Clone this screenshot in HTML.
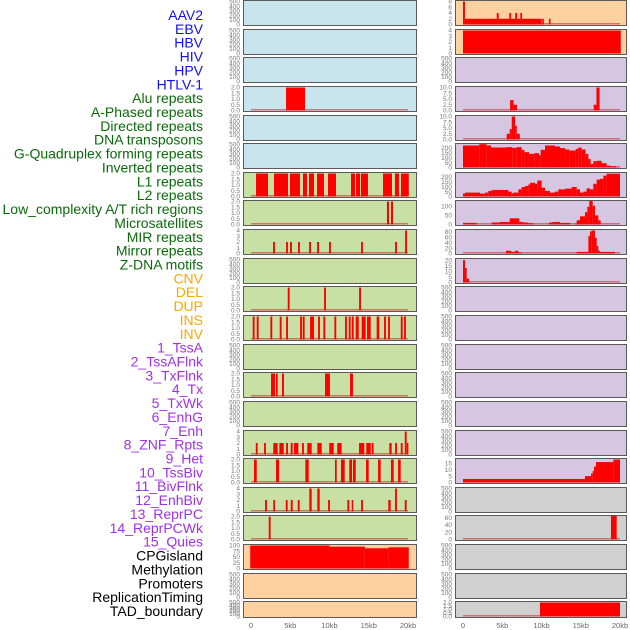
<!DOCTYPE html>
<html><head><meta charset="utf-8"><style>
body{margin:0;background:#fff;}
svg{display:block;font-family:"Liberation Sans",sans-serif;}
</style></head><body>
<svg id="chart" width="630" height="630" viewBox="0 0 630 630">
<g id="labels"></g>
<g id="panels"></g>
<g id="xaxes"></g>
</svg>
<script>
const trackLabels = ["AAV2","EBV","HBV","HIV","HPV","HTLV-1","Alu repeats","A-Phased repeats","Directed repeats","DNA transposons","G-Quadruplex forming repeats","Inverted repeats","L1 repeats","L2 repeats","Low_complexity A/T rich regions","Microsatellites","MIR repeats","Mirror repeats","Z-DNA motifs","CNV","DEL","DUP","INS","INV","1_TssA","2_TssAFlnk","3_TxFlnk","4_Tx","5_TxWk","6_EnhG","7_Enh","8_ZNF_Rpts","9_Het","10_TssBiv","11_BivFlnk","12_EnhBiv","13_ReprPC","14_ReprPCWk","15_Quies","CPGisland","Methylation","Promoters","ReplicationTiming","TAD_boundary"];
const labelGroups = [6,13,5,15,5];
const groupColors = ["#1010ee","#0a6a0a","#ffa500","#a030e8","#000000"];
const xTickValues = [0,5,10,15,20];
const xTickLabels = ["0","5kb","10kb","15kb","20kb"];

// left column tracks (kb start, kb end, value)
const leftAlu = [[4.46,6.88,2]];
const leftRow7 = [[0.64,2.17,2],[2.93,4.71,2],[4.97,6.24,2],[6.62,7.13,2],[7.39,8.03,2],[8.41,9.3,2],[9.81,10.83,2],[12.74,13.25,2],[13.38,13.89,2],[14.01,14.9,2],[16.82,17.96,2],[18.34,18.85,2],[19.11,20.1,2]];
const leftRow8 = [[17.32,17.58,2],[17.83,18.09,2]];
const leftRow9 = [[2.81,3.05,2],[4.47,4.71,2],[4.98,5.22,2],[5.99,6.23,2],[7.4,7.64,2],[8.42,8.66,2],[9.94,10.18,2],[14.02,14.26,2],[18.35,18.59,2],[19.63,19.87,4]];
const leftRow11 = [[4.68,4.92,2],[9.31,9.55,2],[13.77,14.01,2]];
const leftRow12 = [[0.22,0.46,2],[0.73,0.97,2],[2.47,2.71,2],[3.66,3.9,2],[4.47,4.71,2],[6.25,6.49,2],[6.59,6.83,2],[7.52,8.03,2],[8.54,8.78,2],[9.22,9.46,2],[10.62,10.86,2],[11.98,12.22,2],[12.45,12.69,2],[12.84,13.08,2],[13.34,13.72,2],[14.1,14.61,2],[14.78,15.25,2],[16.01,16.34,2],[16.95,17.19,2],[17.46,17.7,2],[19.08,19.32,2],[19.5,19.74,2]];
const leftRow14 = [[2.55,3.06,2],[3.18,3.4,2],[3.95,4.2,2],[9.43,10.06,2],[12.61,12.99,2]];
const leftRow16 = [[0.61,0.85,2],[1.66,1.9,2],[2.84,3.4,2],[3.61,4.17,2],[4.47,4.71,2],[5.06,5.31,2],[5.48,6.03,2],[6.5,6.74,2],[7.17,7.73,2],[8.45,9.01,2],[9.97,10.54,2],[10.99,11.55,2],[13.76,14.43,2],[14.69,15.25,2],[15.38,15.62,2],[17.62,17.92,2],[18.35,18.59,2],[19.08,19.32,2],[19.85,20.05,2],[19.59,19.83,4]];
const leftRow17 = [[0.38,0.73,2],[3.18,3.57,2],[6.92,7.35,2],[10.7,10.92,2],[11.46,11.94,2],[12.52,12.87,2],[12.99,13.34,2],[14.65,14.99,2],[16.18,16.52,2],[17.83,18.18,2],[18.73,19.07,2]];
const leftRow18 = [[1.79,2.03,2],[2.84,3.06,2],[4.43,4.67,2],[5.06,5.31,2],[5.96,6.2,2],[9.82,10.06,2],[12.27,12.52,2],[12.83,12.99,2],[14.02,14.26,2],[17.49,17.79,2],[19.59,19.83,2],[7.43,7.73,4],[8.45,8.75,4],[18.35,18.59,4]];
const leftRow19 = [[2.26,2.5,2]];
const leftCpg = [[-0.1,10,100],[10,14.5,95],[14.5,17.5,88],[17.5,20.1,92]];

// right column tracks
const rightRow1 = [[0,0.25,8],[0.25,10.03,2],[4.3,4.55,4],[5.9,6.12,4],[6.65,6.9,4],[7.3,7.52,4],[10.1,10.3,2],[10.95,11.15,2]];
const rightRow2 = [[0,20.1,4]];
const rightRow4 = [[6.0,6.45,4.5],[6.45,6.87,2.5],[16.65,17.0,2.5],[17.0,17.4,10]];
const rightRow5 = [[5.57,5.95,2.5],[5.95,6.21,4.5],[6.21,6.64,10],[6.64,6.85,6],[6.85,7.24,2.5]];
const rightRow6 = [[0,2.08,224],[2.08,3.02,237],[3.02,3.57,224],[3.57,5.48,203],[5.48,6.28,207],[6.28,6.84,200],[6.84,7.47,207],[7.47,7.82,180],[7.82,8.41,156],[8.41,9.09,139],[9.09,9.68,146],[9.68,9.89,125],[9.89,10.45,180],[10.45,11.72,224],[11.72,12.36,214],[12.36,12.99,197],[12.99,13.55,183],[13.55,14.35,173],[14.35,14.69,190],[14.69,15.12,203],[15.12,15.62,183],[15.62,15.97,139],[15.97,16.26,88],[16.26,16.6,37],[16.6,17.03,64],[17.03,17.66,68],[17.66,18.3,44],[18.3,18.72,20],[18.72,19.49,14],[19.49,19.79,3]];
const rightRow7 = [[0,0.26,30],[0.26,2.17,40],[2.17,2.8,30],[2.8,3.23,40],[3.23,3.65,57],[3.65,5.78,67],[5.78,6.2,50],[6.2,6.41,33],[6.41,7.05,40],[7.05,7.47,73],[7.47,7.9,97],[7.9,8.32,107],[8.32,8.54,123],[8.54,9.17,140],[9.17,9.47,130],[9.47,10.02,163],[10.02,10.45,90],[10.45,11.08,57],[11.08,11.72,40],[11.72,12.14,50],[12.14,12.99,73],[12.99,13.84,80],[13.84,14.48,97],[14.48,14.9,73],[14.9,15.33,40],[15.33,15.75,50],[15.75,16.18,83],[16.18,16.6,73],[16.6,17.03,130],[17.03,17.45,173],[17.45,17.88,180],[17.88,18.3,213],[18.3,20.0,233]];
const rightRow8 = [[0,1.74,9],[3.65,4.67,11],[4.67,5.95,14],[5.95,7.18,34],[7.18,7.68,14],[7.68,8.32,11],[8.32,8.96,7],[10.96,11.38,11],[11.38,12.36,14],[12.36,13.63,9],[14.27,14.48,4],[14.48,14.9,23],[14.9,15.54,45],[15.54,15.84,68],[15.84,16.09,98],[16.09,16.52,130],[16.52,16.81,104],[16.81,17.24,50],[17.24,17.54,23]];
const rightRow9 = [[5.48,6.12,10],[6.12,6.62,6],[6.62,7.05,10],[7.05,7.47,4],[14.48,15.97,6],[15.97,16.18,64],[16.18,16.39,82],[16.39,16.81,85],[16.81,17.03,58],[17.03,17.24,28],[17.24,17.45,10],[17.45,19.36,6]];
const rightRow10 = [[0,0.26,20],[0.26,0.47,13],[0.47,0.77,3.5]];
const rightRow17 = [[0,15.54,2.75],[15.54,16.31,5],[16.31,16.52,7],[16.52,16.69,9],[16.69,16.94,12.5],[16.94,19.15,16],[19.15,20.0,18]];
const rightRow19 = [[18.85,19.58,65]];
const rightRow22 = [[9.8,20.0,2]];

const emptyTicks = [0,100,200,300,400,500];
const twoTicks = [0,0.5,1,1.5,2];
const fourTicks = [0,1,2,3,4];

const BLUE="#c8e4ec", GREEN="#c8e0a4", ORANGE="#ffd0a0", PURPLE="#d6c6e2", GREY="#d0d0d0";
const rowTops = [0,29,57,86,115,143,172,200,229,258,286,315,344,372,401,430,458,487,515,544,573,601];

// [bg, data, ymax, ticks, tickDecimals]
const leftTracks = [
 [BLUE,null],[BLUE,null],[BLUE,null],[BLUE,leftAlu,2,twoTicks,1],[BLUE,null],[BLUE,null],
 [GREEN,leftRow7,2,twoTicks,1],[GREEN,leftRow8,2,twoTicks,1],[GREEN,leftRow9,4,fourTicks,0],[GREEN,null],
 [GREEN,leftRow11,2,twoTicks,1],[GREEN,leftRow12,2,twoTicks,1],[GREEN,null],[GREEN,leftRow14,2,twoTicks,1],
 [GREEN,null],[GREEN,leftRow16,4,fourTicks,0],[GREEN,leftRow17,2,twoTicks,1],[GREEN,leftRow18,4,fourTicks,0],
 [GREEN,leftRow19,2,twoTicks,1],[ORANGE,leftCpg,100,[0,25,50,75,100],0],[ORANGE,null],[ORANGE,null]
];
const rightTracks = [
 [ORANGE,rightRow1,8,[0,2,4,6,8],0],[ORANGE,rightRow2,4,fourTicks,0],[PURPLE,null],
 [PURPLE,rightRow4,10,[0,2.5,5,7.5,10],1],[PURPLE,rightRow5,10,[0,2.5,5,7.5,10],1],
 [PURPLE,rightRow6,234,[0,50,100,150,200],0],[PURPLE,rightRow7,235,[0,50,100,150,200],0],
 [PURPLE,rightRow8,127,[0,50,100],0],[PURPLE,rightRow9,85,[0,20,40,60,80],0],[PURPLE,rightRow10,20.6,[0,5,10,15,20],0],
 [PURPLE,null],[PURPLE,null],[PURPLE,null],[PURPLE,null],[PURPLE,null],[PURPLE,null],
 [PURPLE,rightRow17,18,[0,5,10,15],0],[GREY,null],[GREY,rightRow19,63,[0,20,40,60],0],[GREY,null],[GREY,null],
 [GREY,rightRow22,2,twoTicks,1]
];

const NS="http://www.w3.org/2000/svg";
function mk(tag, attrs, parent){const e=document.createElementNS(NS,tag);for(const k in attrs)e.setAttribute(k,attrs[k]);parent.appendChild(e);return e;}

// labels
const lg=document.getElementById('labels');
let gi=0, gc=0;
trackLabels.forEach((t,i)=>{
  if(gc>=labelGroups[gi]){gi++;gc=0;}
  gc++;
  const el=mk('text',{x:203,y:20+i*13.86,'text-anchor':'end','font-size':'14',fill:groupColors[gi]},lg);
  el.textContent=t;
  
  
});

const pg=document.getElementById('panels');
function drawColumn(tracks, px, pw, x0, side){
  const xs = kb => x0 + kb*7.85;
  tracks.forEach((tr,r)=>{
    const top=rowTops[r], h = r===21?16:25;
    const g=mk('g',{},pg);
    
    
    const rect=mk('rect',{x:px+0.5,y:top+0.5,width:pw,height:h,fill:tr[0],stroke:'#5a5a5a','stroke-width':1},g);
    
    
    const data=tr[1];
    const bottom=top+h-0.5, plotTop=top+1.5;
    let ymax, ticks, dec;
    if(!data){ymax=500;ticks=emptyTicks;dec=0;}else{ymax=tr[2];ticks=tr[3];dec=tr[4];}
    const ys=v=>bottom-(v/ymax)*(bottom-plotTop);
    ticks.forEach(v=>{
      const tt=mk('text',{x:px-3,y:ys(v)+2.2,'text-anchor':'end','font-size':'6.5',fill:'#777'},g);
      tt.textContent=dec?v.toFixed(dec):String(v);
      
      
    });
    if(data){
      const bl=mk('rect',{x:xs(0),y:bottom-1.5,width:xs(20)-xs(0),height:1.5,fill:'#c83030',opacity:0.6},g);
      
      
      data.forEach(d=>{
        const b=mk('rect',{x:xs(d[0]),y:ys(d[2]),width:Math.max(xs(d[1])-xs(d[0]),1.5),height:bottom-ys(d[2]),fill:'#ff0000'},g);
        
        
      });
    }
  });
  const xg=document.getElementById('xaxes');
  xTickValues.forEach((v,i)=>{
    const t=mk('text',{x:xs(v),y:628,'text-anchor':'middle','font-size':'7.5',fill:'#666'},xg);
    t.textContent=xTickLabels[i];
    
    
  });
}
drawColumn(leftTracks,243,173,251,'left');
drawColumn(rightTracks,455,171,463,'right');
</script>
</body></html>
